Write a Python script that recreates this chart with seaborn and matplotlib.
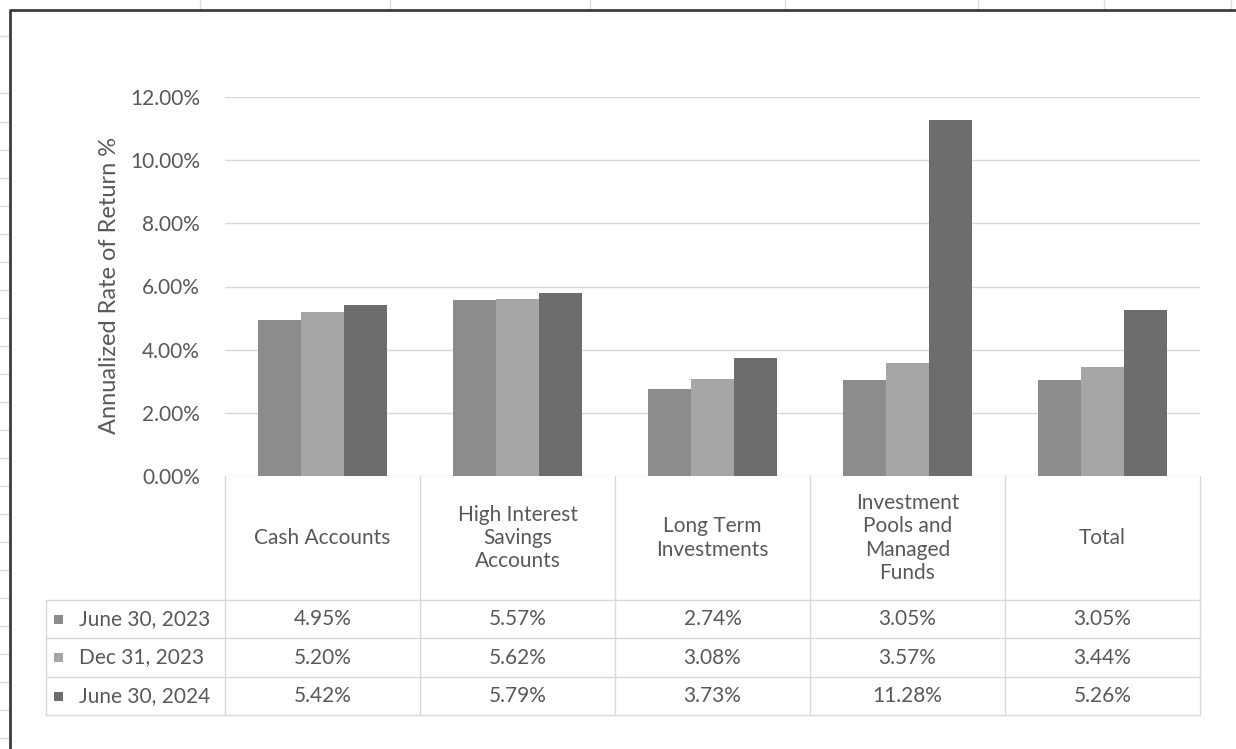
import numpy as np
import pandas as pd
import matplotlib
matplotlib.use("Agg")
import matplotlib.pyplot as plt
import seaborn as sns
from matplotlib.transforms import blended_transform_factory
from matplotlib.lines import Line2D
from matplotlib.patches import Rectangle

# ---------------- data ----------------
categories = ["Cash Accounts", "High Interest Savings Accounts", "Long Term Investments",
              "Investment Pools and Managed Funds", "Total"]
category_labels = ["Cash Accounts", "High Interest\nSavings\nAccounts", "Long Term\nInvestments",
                   "Investment\nPools and\nManaged\nFunds", "Total"]
series = ["June 30, 2023", "Dec 31, 2023", "June 30, 2024"]
june_2023 = [4.95, 5.57, 2.74, 3.05, 3.05]
dec_2023 = [5.20, 5.62, 3.08, 3.57, 3.44]
june_2024 = [5.42, 5.79, 3.73, 11.28, 5.26]
yticks = [0, 2, 4, 6, 8, 10, 12]
colors = ["#8c8c8c", "#a6a6a6", "#6d6d6d"]

values = [june_2023, dec_2023, june_2024]
df = pd.DataFrame({
    "Category": [c for s in series for c in categories],
    "Series": [s for s in series for _ in categories],
    "Value": [v for vals in values for v in vals],
})

# ---------------- style ----------------
sns.set_theme(style="white")
plt.rcParams["font.family"] = ["Lato", "DejaVu Sans"]
TXT = "#595959"
GRID = "#d9d9d9"
FS = 15

W, H = 1236, 749
fig = plt.figure(figsize=(W / 100, H / 100), dpi=100)
fig.patch.set_facecolor("white")

def fx(px):
    return px / W

def fy(py):
    return 1 - py / H

ax = fig.add_axes([fx(225), fy(476), fx(1200) - fx(225), fy(97) - fy(476)])
sns.barplot(data=df, x="Category", y="Value", hue="Series", order=categories,
            hue_order=series, palette=colors, width=0.66, gap=0, saturation=1,
            legend=False, ax=ax, linewidth=0)

ax.set_xlim(-0.5, len(categories) - 0.5)
ax.set_ylim(0, 12)
ax.set_yticks(yticks)
ax.set_yticklabels([f"{t:.2f}%" for t in yticks], fontsize=FS, color=TXT)
ax.tick_params(axis="y", length=0, pad=18)
ax.set_xticks([])
ax.set_xlabel("")
ax.set_ylabel("")
ax.yaxis.grid(True, color=GRID, linewidth=1)
ax.set_axisbelow(True)
for s in ax.spines.values():
    s.set_visible(False)

fig.text(fx(110), fy(285), "Annualized Rate of Return %", rotation=90,
         ha="center", va="center", fontsize=17, color=TXT)

# ---------------- data table ----------------
bt = blended_transform_factory(ax.transData, fig.transFigure)
n = len(categories)
row_y = [600, 638, 677, 715]
for i in range(n + 1):
    ax.add_line(Line2D([i - 0.5, i - 0.5], [fy(476), fy(715)], transform=bt,
                       color=GRID, lw=1, clip_on=False))
fig.add_artist(Line2D([fx(46), fx(46)], [fy(600), fy(715)], color=GRID, lw=1))
for y in row_y:
    fig.add_artist(Line2D([fx(46), fx(1200)], [fy(y), fy(y)], color=GRID, lw=1))

for i, lab in enumerate(category_labels):
    ax.text(i, fy(538), lab, transform=bt, ha="center", va="center",
            fontsize=FS, color=TXT, linespacing=1.2)

row_centers = [619, 657.5, 696]
for r, (s, vals, col) in enumerate(zip(series, values, colors)):
    yc = row_centers[r]
    fig.add_artist(Rectangle((fx(54), fy(yc + 4.5)), fx(9), 9 / H,
                             facecolor=col, edgecolor="none"))
    fig.text(fx(79), fy(yc), s, ha="left", va="center", fontsize=FS, color=TXT)
    for i, v in enumerate(vals):
        ax.text(i, fy(yc), f"{v:.2f}%", transform=bt, ha="center", va="center",
                fontsize=FS, color=TXT)

# ---------------- spreadsheet surroundings ----------------
for px in [200, 390, 590, 785, 978, 1104, 1231]:
    fig.add_artist(Line2D([fx(px), fx(px)], [fy(0), fy(8)], color="#dcdcdc", lw=1))
for py in [36, 93, 122, 150, 178, 206, 234, 262, 290, 318, 346, 374, 402, 430,
           458, 486, 514, 542, 570, 598, 626, 654, 682, 710, 738]:
    fig.add_artist(Line2D([fx(0), fx(8)], [fy(py), fy(py)], color="#dcdcdc", lw=1))
fig.add_artist(Line2D([fx(10), fx(10), fx(W)], [fy(H), fy(10), fy(10)],
                      color="#3c3c3c", lw=2))

fig.savefig("out.png", dpi=100)
